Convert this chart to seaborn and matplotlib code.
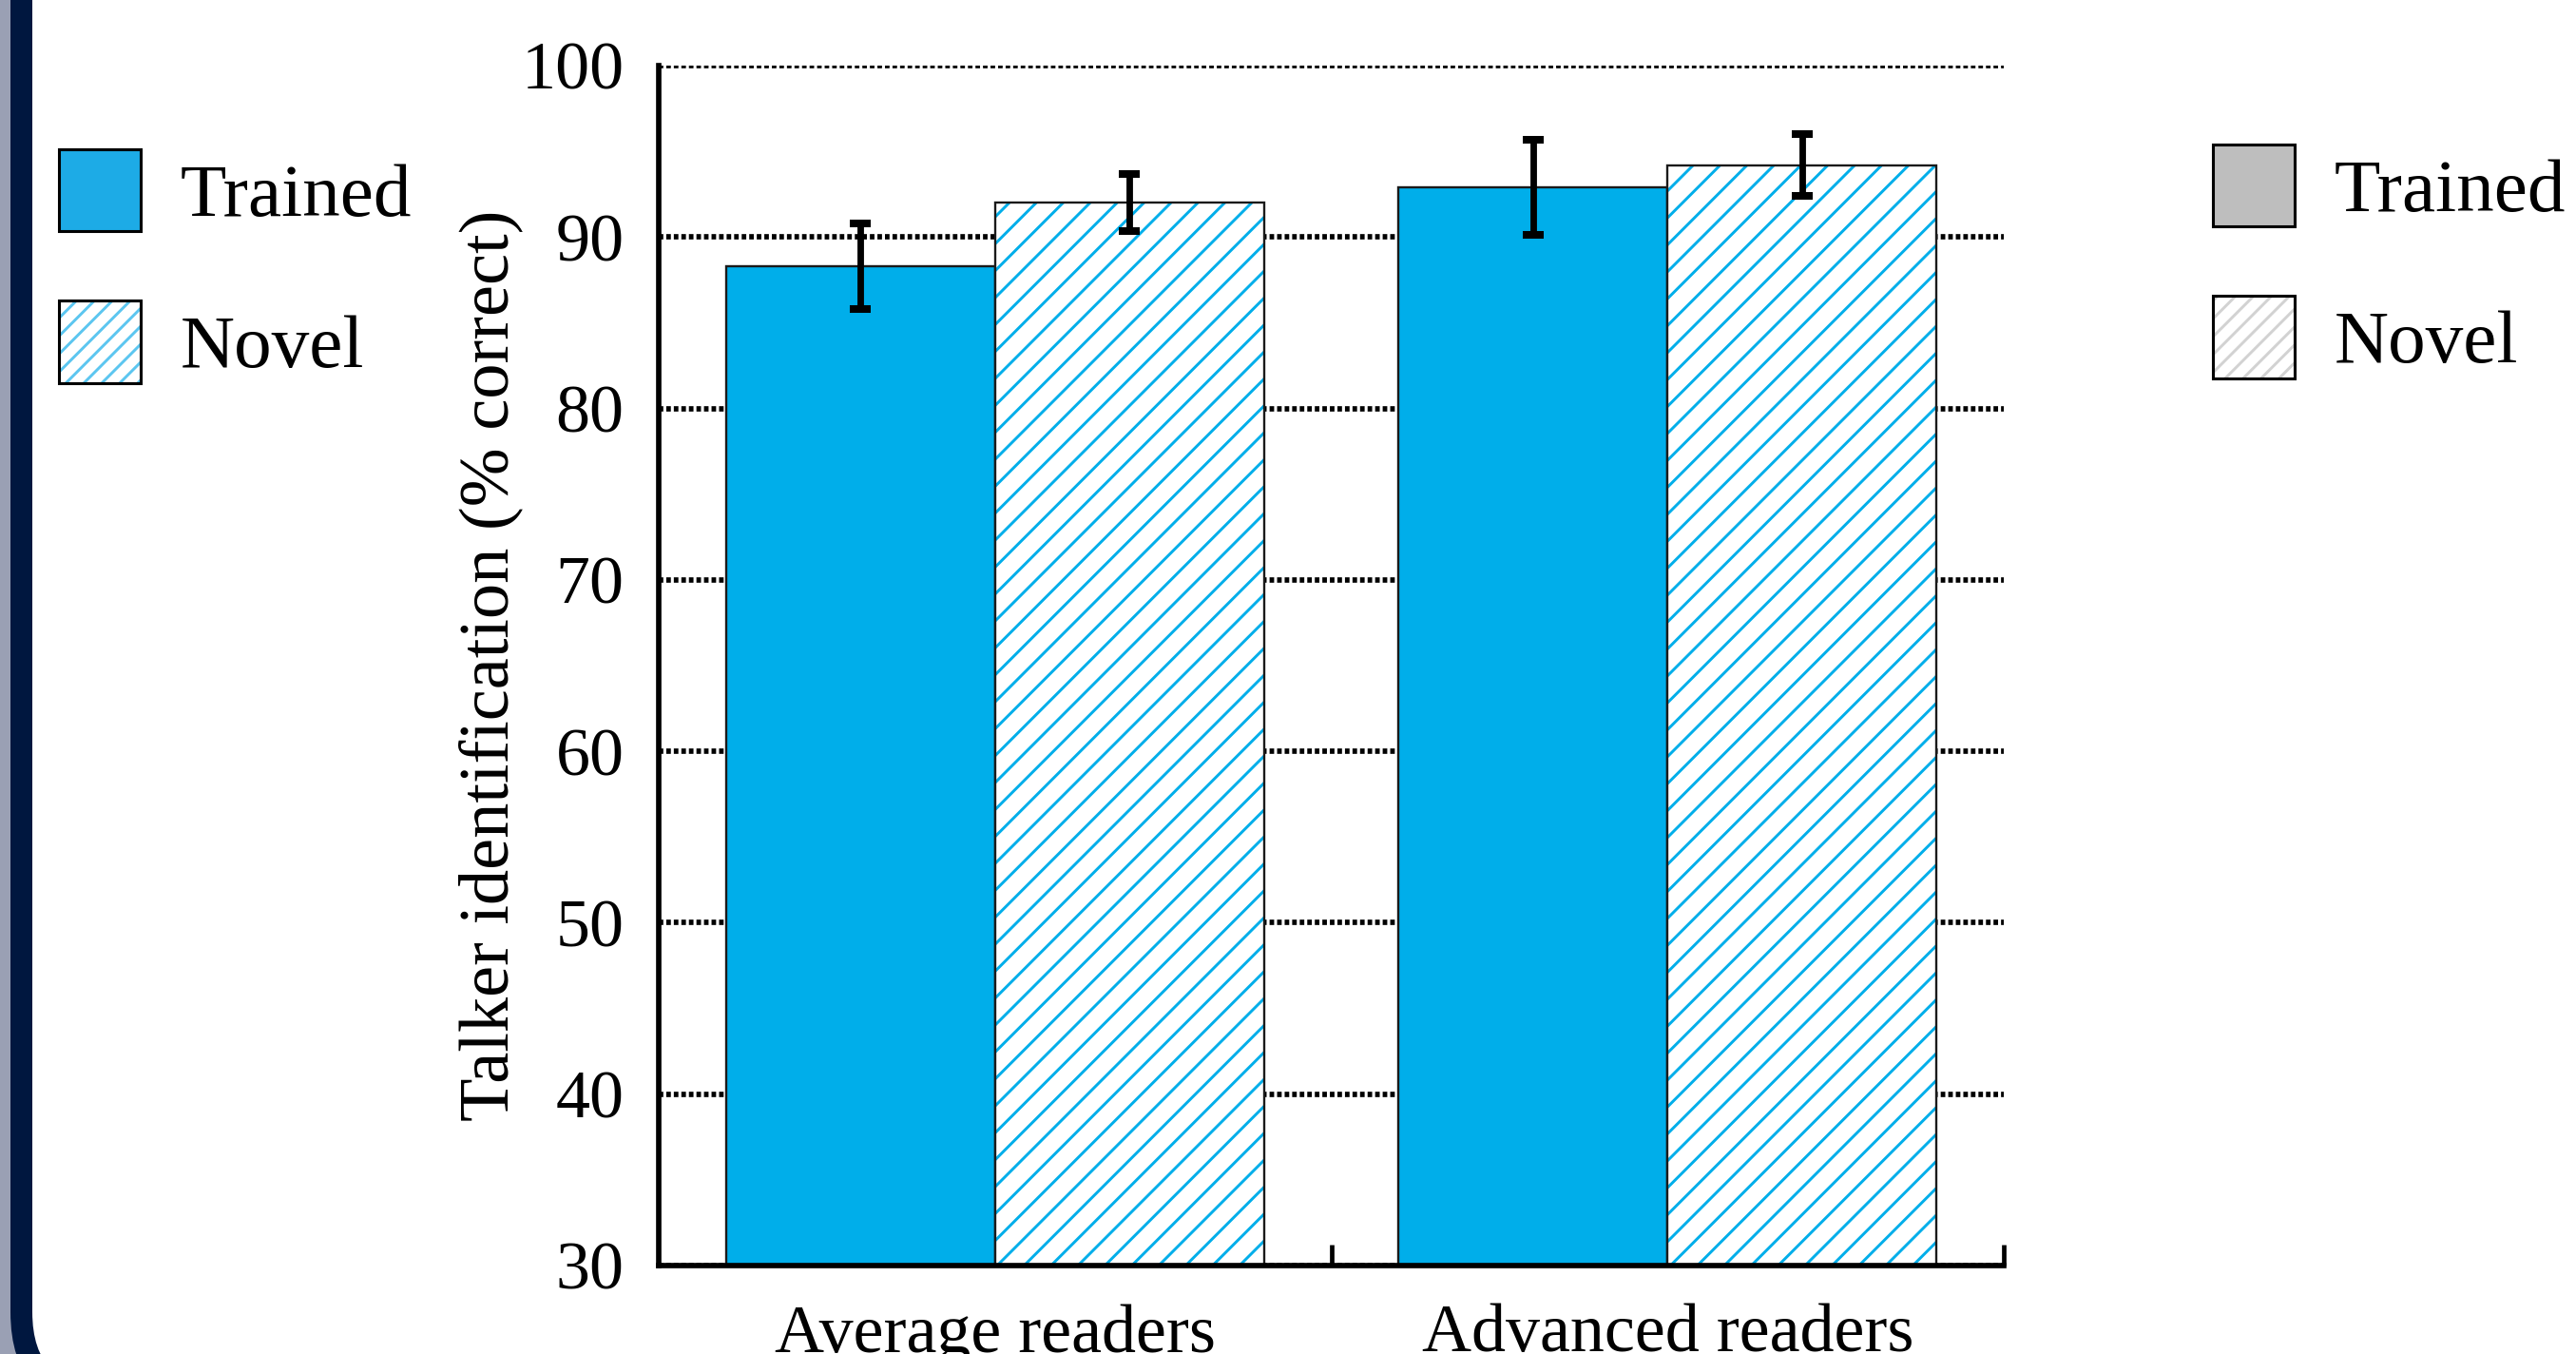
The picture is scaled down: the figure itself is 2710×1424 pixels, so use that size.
import matplotlib
matplotlib.use("Agg")
import matplotlib.pyplot as plt
import matplotlib.patches as mpatches
import matplotlib.transforms as mtransforms
from matplotlib.legend_handler import HandlerTuple
from matplotlib.ticker import FixedLocator
import seaborn as sns
import pandas as pd

# ---- data -------------------------------------------------------------
groups = ["Average readers", "Advanced readers"]
conditions = ["Trained", "Novel"]
trained_mean = [88.3, 92.9]
novel_mean = [92.0, 94.2]
trained_err = [2.5, 2.75]
novel_err = [1.65, 1.8]
y_ticks = [30, 40, 50, 60, 70, 80, 90, 100]
y_label = "Talker identification (% correct)"

# ---- style ------------------------------------------------------------
BLUE = "#00AEEA"
BLUE_KEY = "#1DABE6"
EDGE = "#1a1a1a"
NAVY = "#00173F"
SIDE_GRAY = "#9AA0B4"

sns.set_theme(style="white")
plt.rcParams["font.family"] = ["Liberation Serif", "DejaVu Serif"]
plt.rcParams["text.color"] = "black"
plt.rcParams["hatch.linewidth"] = 1.25

DPI = 170
W, H = 2710, 1424
fig = plt.figure(figsize=(W / DPI, H / DPI), dpi=DPI, facecolor="white")

# slide frame on the left edge (pixel coordinates)
ident = mtransforms.IdentityTransform()
fig.add_artist(mpatches.Rectangle((0, 0), 80, H, transform=ident,
                                  facecolor=SIDE_GRAY, edgecolor="none", zorder=-5))
fig.add_artist(mpatches.FancyBboxPatch((11, -60), 4000, 2000,
                                       boxstyle="round,pad=0,rounding_size=104",
                                       transform=ident, facecolor=NAVY,
                                       edgecolor="none", zorder=-4))
fig.add_artist(mpatches.FancyBboxPatch((34, -37), 4000, 2000,
                                       boxstyle="round,pad=0,rounding_size=81",
                                       transform=ident, facecolor="white",
                                       edgecolor="none", zorder=-3))

ax = fig.add_axes([693 / W, 1 - 1331 / H, (2108 - 693) / W, (1331 - 69) / H])

df = pd.DataFrame({
    "group": groups * 2,
    "condition": [conditions[0]] * len(groups) + [conditions[1]] * len(groups),
    "score": trained_mean + novel_mean,
})

sns.barplot(data=df, x="group", y="score", hue="condition",
            order=groups, hue_order=conditions,
            palette={"Trained": BLUE, "Novel": "white"},
            errorbar=None, width=0.8, saturation=1,
            edgecolor=EDGE, linewidth=1.0, legend=False, ax=ax, zorder=2)

# hatched novel bars: blue hatch with a dark outline on top
for bar in ax.containers[1]:
    bar.set_hatch("//")
    bar.set_edgecolor(BLUE)
    bar.set_linewidth(0)
    ax.add_patch(mpatches.Rectangle((bar.get_x(), bar.get_y()),
                                    bar.get_width(), bar.get_height(),
                                    fill=False, edgecolor=EDGE, linewidth=1.0,
                                    zorder=2.5))

# error bars at the bar centres
for cont, means, errs in zip(ax.containers, [trained_mean, novel_mean],
                             [trained_err, novel_err]):
    xs = [b.get_x() + b.get_width() / 2 for b in cont]
    ax.errorbar(xs, means, yerr=errs, fmt="none", ecolor="black",
                elinewidth=2.9, capsize=4.7, capthick=3.4, zorder=6)

# axes
ax.set_xlim(-0.5, 1.5)
ax.set_ylim(30, 100)
ax.set_yticks(y_ticks)
ax.set_axisbelow(True)
ax.yaxis.grid(True, color="black", linestyle=(0, (0.85, 0.55)), linewidth=2.4)
ax.xaxis.grid(False)

for side in ["top", "right"]:
    ax.spines[side].set_visible(False)
for side in ["left", "bottom"]:
    ax.spines[side].set_linewidth(2.4)
    ax.spines[side].set_color("black")

ax.tick_params(axis="y", length=0, pad=15.5, labelsize=30.5, labelcolor="black")
ax.tick_params(axis="x", which="major", length=0, pad=17, labelsize=30.5,
               labelcolor="black")
ax.xaxis.set_minor_locator(FixedLocator([0.5, 1.5]))
ax.tick_params(axis="x", which="minor", bottom=True, direction="in",
               length=9.3, width=2.0, color="black")

ax.set_xlabel("")
ax.set_ylabel(y_label, fontsize=31.5, color="black")
ax.yaxis.set_label_coords(-0.101, 0.5)

# legends
leg_kw = dict(loc="upper left", frameon=False, fontsize=33.5,
              handlelength=1.09, handleheight=1.3, handletextpad=0.52,
              labelspacing=0.92, borderpad=0, borderaxespad=0,
              labelcolor="black",
              handler_map={tuple: HandlerTuple(ndivide=1)})


def hatched_key(color):
    fill = mpatches.Patch(facecolor="white", edgecolor=color, hatch="///",
                          linewidth=0)
    return (fill, mpatches.Patch(fill=False, edgecolor="black", linewidth=1.3))


left_handles = [
    mpatches.Patch(facecolor=BLUE_KEY, edgecolor="black", linewidth=1.3),
    hatched_key("#5CC6F0"),
]
fig.legend(left_handles, conditions, bbox_to_anchor=(62 / W, 1 - 157 / H), **leg_kw)

right_handles = [
    mpatches.Patch(facecolor="#BEBEBE", edgecolor="black", linewidth=1.3),
    hatched_key("#D2D2D2"),
]
fig.legend(right_handles, conditions, bbox_to_anchor=(2328 / W, 1 - 152 / H), **leg_kw)

fig.savefig("out.png", dpi=DPI, facecolor="white")
